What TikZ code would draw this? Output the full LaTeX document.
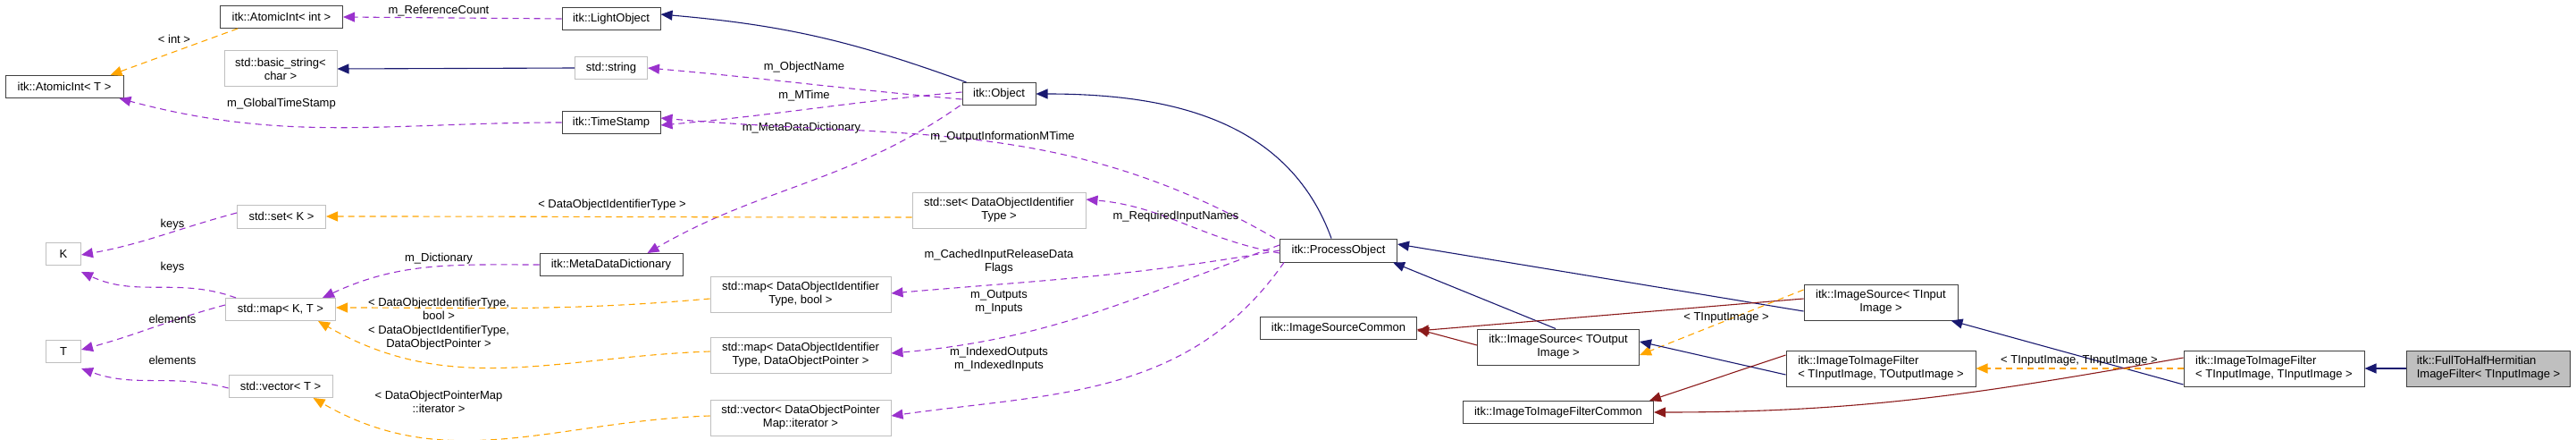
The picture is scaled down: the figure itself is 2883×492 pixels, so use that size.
\documentclass[tikz,border=0pt]{standalone}
\usepackage{fontspec}
\setmainfont{Liberation Sans}
\usetikzlibrary{arrows.meta}
\definecolor{inh}{HTML}{191970}
\definecolor{use}{HTML}{9A32CD}
\definecolor{tpl}{HTML}{FFA500}
\definecolor{prv}{HTML}{8B1A1A}
\definecolor{gbox}{HTML}{BFBFBF}
\definecolor{cur}{HTML}{BFBFBF}
\begin{document}
\begin{tikzpicture}[x=1pt,y=-1pt,
  font=\fontsize{13}{15}\selectfont,
  box/.style={draw=black!75, line width=1pt, fill=white, inner sep=0pt, align=center},
  ext/.style={box, draw=gbox},
  lbox/.style={box, align=left},
  tip/.style={-{Triangle[length=13pt,width=11pt]}},
  einh/.style={tip, draw=inh, line width=1.1pt},
  eprv/.style={tip, draw=prv, line width=1.1pt},
  euse/.style={tip, draw=use, line width=1.1pt, dash pattern=on 7pt off 5pt},
  etpl/.style={tip, draw=tpl, line width=1.1pt, dash pattern=on 7pt off 5pt},
  lab/.style={inner sep=0pt, align=center}]
\useasboundingbox (0,0) rectangle (2883,492);
% nodes
\node[box, minimum width=137, minimum height=25] (ai) at (315,19) {itk::AtomicInt< int >};
\node[box, minimum width=110, minimum height=25] (lo) at (684,21) {itk::LightObject};
\node[box, minimum width=132, minimum height=25] (at) at (72,97) {itk::AtomicInt< T >};
\node[ext, minimum width=126, minimum height=40] (bs) at (314,77) {std::basic\_string<\\char >};
\node[ext, minimum width=81, minimum height=25] (ss) at (684,76) {std::string};
\node[box, minimum width=110, minimum height=25] (ts) at (684,137) {itk::TimeStamp};
\node[ext, minimum width=99, minimum height=26] (sk) at (315,242) {std::set< K >};
\node[ext, minimum width=39, minimum height=25] (k) at (71,284) {K};
\node[ext, minimum width=123, minimum height=25] (mkt) at (314,346) {std::map< K, T >};
\node[ext, minimum width=39, minimum height=25] (t) at (71,393) {T};
\node[ext, minimum width=116, minimum height=25] (vt) at (314,432) {std::vector< T >};
\node[box, minimum width=160, minimum height=25] (mdd) at (684,296) {itk::MetaDataDictionary};
\node[box, minimum width=82, minimum height=25] (obj) at (1118,105) {itk::Object};
\node[ext, minimum width=194, minimum height=40] (sdoi) at (1118,235) {std::set< DataObjectIdentifier\\Type >};
\node[ext, minimum width=202, minimum height=40] (mb) at (896,329) {std::map< DataObjectIdentifier\\Type, bool >};
\node[ext, minimum width=202, minimum height=40] (mp) at (896,397) {std::map< DataObjectIdentifier\\Type, DataObjectPointer >};
\node[ext, minimum width=202, minimum height=40] (vi) at (896,467) {std::vector< DataObjectPointer\\Map::iterator >};
\node[box, minimum width=131, minimum height=26] (po) at (1498,280) {itk::ProcessObject};
\node[box, minimum width=175, minimum height=25] (isc) at (1498,367) {itk::ImageSourceCommon};
\node[box, minimum width=181, minimum height=40] (iso) at (1744,388) {itk::ImageSource< TOutput\\Image >};
\node[box, minimum width=172, minimum height=40] (isi) at (2105,338) {itk::ImageSource< TInput\\Image >};
\node[lbox, minimum width=212, minimum height=40] (ito) at (2105,412) {itk::ImageToImageFilter\\< TInputImage, TOutputImage >};
\node[box, minimum width=213, minimum height=25] (itc) at (1744,461) {itk::ImageToImageFilterCommon};
\node[lbox, minimum width=202, minimum height=40] (iti) at (2545,412) {itk::ImageToImageFilter\\< TInputImage, TInputImage >};
\node[lbox, fill=cur, minimum width=183, minimum height=40] (fh) at (2785,412) {itk::FullToHalfHermitian\\ImageFilter< TInputImage >};
% edges
\draw[euse] (lo.west) -- (ai.east);
\node[lab] (l1) at (491,12) {m\_ReferenceCount};
\coordinate (c1) at ([xshift=20pt]ai.south west);
\draw[etpl] (c1) -- ([xshift=-15pt]at.north east);
\node[lab] (l2) at (195,44) {< int >};
\draw[einh] (ss.west) -- (bs.east);
\draw[euse] (ts.west) to[out=180,in=-15] ([xshift=-5pt]at.south east);
\node[lab] (l3) at (315,116) {m\_GlobalTimeStamp};
\draw[einh] ([xshift=5pt]obj.north west) to[out=160,in=-5] ([yshift=5pt]lo.east);
\draw[euse] ([yshift=-6pt]obj.west) to[out=175,in=-5] (ss.east);
\node[lab] (l4) at (900,75) {m\_ObjectName};
\draw[euse] ([yshift=2pt]obj.west) to[out=185,in=5] ([yshift=-3pt]ts.east);
\node[lab] (l5) at (900,107) {m\_MTime};
\draw[euse] ([xshift=-2pt]obj.south west) to[out=-145,in=30] ([xshift=-40pt]mdd.north east);
\node[lab] (l6) at (897,143) {m\_MetaDataDictionary};
\draw[einh] ([xshift=-8pt]po.north) to[out=110,in=0] (obj.east);
\draw[euse] ([xshift=-5pt]po.north west) to[out=150,in=-5] ([yshift=5pt]ts.east);
\node[lab] (l7) at (1122,153) {m\_OutputInformationMTime};
\draw[euse] ([yshift=-3pt]po.west) to[out=170,in=-5] ([yshift=12pt]sdoi.east);
\node[lab] (l8) at (1316,242) {m\_RequiredInputNames};
\draw[euse] ([yshift=0pt]po.west) to[out=190,in=5] ([yshift=1pt]mb.east);
\node[lab] (l9) at (1118,293) {m\_CachedInputReleaseData\\Flags};
\draw[euse] ([yshift=6pt]po.west) to[out=200,in=5] ([yshift=2pt]mp.east);
\node[lab] (l10) at (1118,338) {m\_Outputs\\m\_Inputs};
\draw[euse] ([xshift=5pt]po.south west) to[out=-125,in=8] ([yshift=2pt]vi.east);
\node[lab] (l11) at (1118,402) {m\_IndexedOutputs\\m\_IndexedInputs};
\draw[etpl] ([yshift=-8pt]sdoi.west) to[out=180,in=0] (sk.east);
\node[lab] (l12) at (685,229) {< DataObjectIdentifierType >};
\draw[euse] ([yshift=4pt]sk.west) to[out=195,in=10] ([yshift=-1pt]k.east);
\node[lab] (l13) at (193,251) {keys};
\draw[euse] ([xshift=12pt]mkt.north west) to[out=160,in=-25] ([yshift=-7pt]k.south east);
\node[lab] (l14) at (193,299) {keys};
\draw[euse] ([yshift=5pt]mkt.west) to[out=195,in=15] ([yshift=2pt]t.east);
\node[lab] (l15) at (193,357) {elements};
\draw[euse] ([yshift=-2pt]vt.west) to[out=165,in=-20] ([yshift=-6pt]t.south east);
\node[lab] (l16) at (193,403) {elements};
\draw[euse] (mdd.west) to[out=180,in=25] ([xshift=-15pt]mkt.north east);
\node[lab] (l17) at (491,289) {m\_Dictionary};
\draw[etpl] ([yshift=-5pt]mb.west) to[out=185,in=0] ([yshift=2pt]mkt.east);
\node[lab] (l18) at (491,345) {< DataObjectIdentifierType,\\bool >};
\draw[etpl] ([yshift=4pt]mp.west) to[out=182,in=-30] ([xshift=-20pt]mkt.south east);
\node[lab] (l19) at (491,378) {< DataObjectIdentifierType,\\DataObjectPointer >};
\draw[etpl] ([yshift=2pt]vi.west) to[out=182,in=-30] ([xshift=-22pt]vt.south east);
\node[lab] (l20) at (491,449) {< DataObjectPointerMap\\::iterator >};
\draw[einh] ([xshift=-3pt]iso.north) -- ([xshift=-5pt]po.south east);
\draw[eprv] ([yshift=2pt]iso.west) -- ([yshift=-1pt]isc.east);
\draw[einh] ([yshift=-10pt]isi.west) -- ([yshift=7pt]po.east);
\draw[eprv] ([yshift=4pt]isi.west) -- ([yshift=-3pt]isc.east);
\draw[etpl] ([yshift=14pt]isi.west) -- ([yshift=-9pt]iso.east);
\node[lab] (l21) at (1932,355) {< TInputImage >};
\draw[einh] ([yshift=-7pt]ito.west) -- ([yshift=6pt]iso.east);
\draw[eprv] ([yshift=15pt]ito.west) -- ([xshift=-5pt]itc.north east);
\draw[einh] ([yshift=-18pt]iti.west) -- ([xshift=-8pt]isi.south east);
\draw[etpl] (iti.west) -- (ito.east);
\node[lab] (l22) at (2327,403) {< TInputImage, TInputImage >};
\draw[eprv] ([yshift=12pt]iti.west) to[out=190,in=0] (itc.east);
\draw[einh] (fh.west) -- (iti.east);
\end{tikzpicture}
\end{document}
